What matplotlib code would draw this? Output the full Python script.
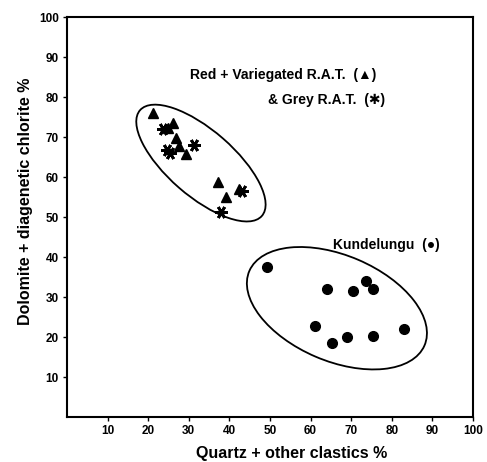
import matplotlib.pyplot as plt
from matplotlib.patches import Ellipse

# Red + Variegated R.A.T. (triangles)
rat_red_x = [21.3, 26.2, 25.0, 26.8, 27.6, 29.3, 37.3, 39.2, 42.4]
rat_red_y = [75.9, 73.6, 72.2, 69.8, 67.8, 65.8, 58.8, 55.1, 57.0]

# Grey R.A.T. (asterisks)
rat_grey_x = [23.7, 24.6, 25.4, 31.4, 43.0, 37.9]
rat_grey_y = [71.9, 66.8, 66.0, 68.0, 56.5, 51.3]

# Kundelungu (circles)
kund_x = [49.2, 64.0, 70.5, 73.6, 75.4, 61.1, 65.2, 68.9, 75.4, 83.0]
kund_y = [37.4, 31.9, 31.5, 34.0, 32.0, 22.8, 18.4, 19.9, 20.3, 21.9]

ticks = list(range(10, 101, 10))

plt.rcParams['font.family'] = ['Liberation Sans', 'DejaVu Sans']

fig = plt.figure(figsize=(4.87, 4.62), dpi=100)
ax = fig.add_axes([0.1376, 0.0974, 0.8334, 0.8656])

ax.set_xlim(0, 100)
ax.set_ylim(0, 100)

# group envelopes
ax.add_patch(Ellipse((33.0, 63.5), 40, 16.4, angle=-41.5,
                     fill=False, edgecolor='black', linewidth=1.3))
ax.add_patch(Ellipse((66.5, 27.2), 47, 26.4, angle=-23.5,
                     fill=False, edgecolor='black', linewidth=1.3))

ax.plot(rat_red_x, rat_red_y, linestyle='none', marker='^',
        color='black', markersize=7)
ax.plot(rat_grey_x, rat_grey_y, linestyle='none', marker=(6, 2, 90),
        color='black', markersize=9, markeredgewidth=2)
ax.plot(kund_x, kund_y, linestyle='none', marker='o',
        color='black', markersize=7)

ax.text(30.3, 85.5, 'Red + Variegated R.A.T.  (\u25B2)', fontsize=10,
        fontweight='bold', ha='left', va='center')
ax.text(78.5, 79.3, '& Grey R.A.T.  (\u2731)', fontsize=10,
        fontweight='bold', ha='right', va='center')
ax.text(65.5, 43.0, 'Kundelungu  (\u25CF)', fontsize=10,
        fontweight='bold', ha='left', va='center')

ax.set_xticks(ticks)
ax.set_yticks(ticks)
ax.tick_params(direction='out', length=3, width=1, labelsize=8.5, pad=3)
for lbl in ax.get_xticklabels() + ax.get_yticklabels():
    lbl.set_fontweight('bold')
for spine in ax.spines.values():
    spine.set_linewidth(1.5)

ax.set_xlabel('Quartz + other clastics %', fontsize=11.5, fontweight='bold')
ax.set_ylabel('Dolomite + diagenetic chlorite %', fontsize=11.5, fontweight='bold')
ax.xaxis.set_label_coords(0.553, -0.072)
ax.yaxis.set_label_coords(-0.085, 0.539)

fig.savefig('out.png', dpi=100)
